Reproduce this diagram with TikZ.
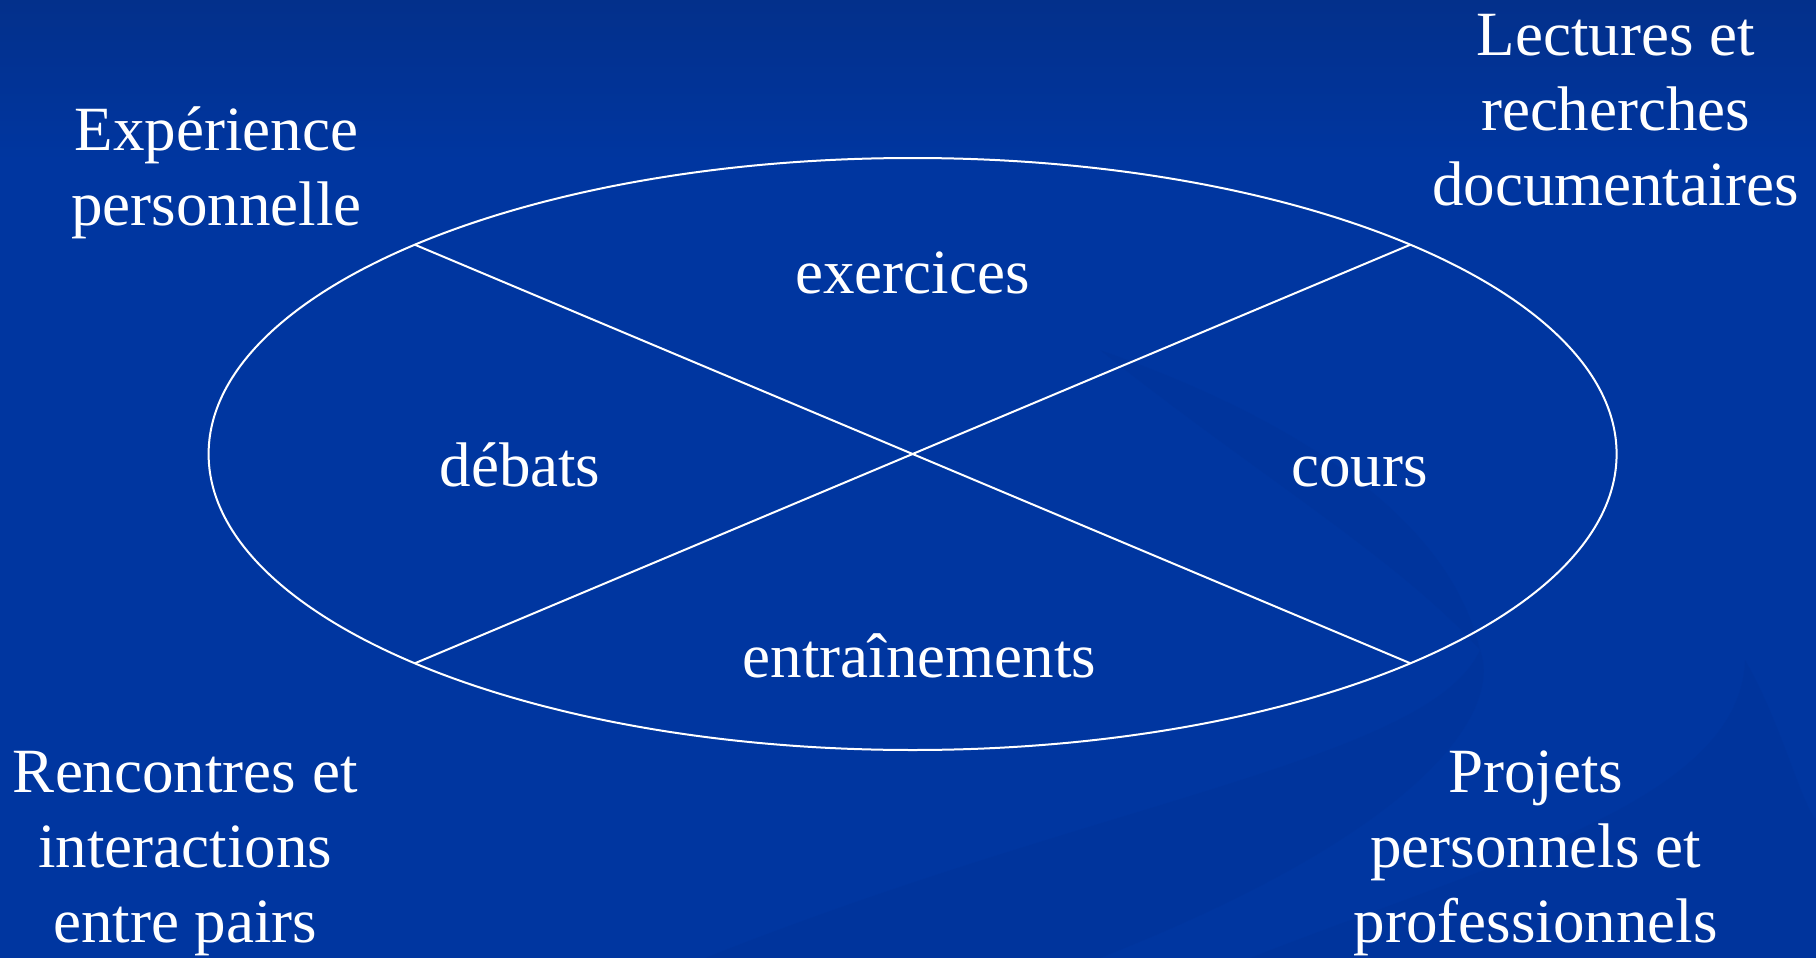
\documentclass[tikz,border=0pt]{standalone}
\usepackage{fontspec}
\setmainfont{Liberation Serif}
\usetikzlibrary{calc}
\begin{document}
\begin{tikzpicture}[x=1pt,y=-1pt,
  lbl/.style={text=white,font=\fontsize{63}{75.3}\selectfont,align=center,inner sep=0pt},
  divider/.style={draw=white,line width=2pt},
  swoosh/.style={fill=bgdark,opacity=0.2}]
\definecolor{bgtop}{HTML}{03308B}
\definecolor{bgmain}{HTML}{0036A0}
\definecolor{bgdark}{HTML}{02308F}
\useasboundingbox (0,0) rectangle (1816,958);
\shade[top color=bgtop,bottom color=bgmain] (0,0) rectangle (1816,160);
\fill[bgmain] (0,159.5) rectangle (1816,958);
% faint background swooshes
\fill[swoosh] (700,960) .. controls (1100,800) and (1430,760) .. (1480,650)
  .. controls (1500,700) and (1450,820) .. (1100,958) -- cycle;
\fill[swoosh] (1250,958) .. controls (1500,860) and (1740,800) .. (1745,660)
  .. controls (1780,720) and (1800,800) .. (1816,820) -- (1816,958) -- cycle;
\fill[swoosh] (1100,350) .. controls (1300,420) and (1450,520) .. (1480,650)
  .. controls (1400,560) and (1250,470) .. (1100,350) -- cycle;
% ellipse and dividers
\coordinate (c) at (912.6,454);
\draw[white,line width=2pt] (c) ellipse [x radius=704, y radius=296];
\coordinate (ul) at ($(c)+(-497.8,-209.3)$);
\coordinate (ur) at ($(c)+(497.8,-209.3)$);
\coordinate (ll) at ($(c)+(-497.8,209.3)$);
\coordinate (lr) at ($(c)+(497.8,209.3)$);
\draw[divider] (ul) -- (lr);
\draw[divider] (ur) -- (ll);
% inner labels
\node[lbl] (ex) at (912.6,273.3) {exercices};
\node[lbl] (deb) at (520,464.5) {débats};
\node[lbl] (cou) at (1359.7,471.5) {cours};
\node[lbl] (ent) at (919.6,655.5) {entraînements};
% outer labels
\node[lbl] (exp) at (216.6,173) {Expérience\\personnelle};
\node[lbl] (lec) at (1615.7,110) {Lectures et\\recherches\\documentaires};
\node[lbl] (ren) at (185.3,853.5) {Rencontres et\\interactions\\entre pairs};
\node[lbl] (pro) at (1535.8,853.5) {Projets\\personnels et\\professionnels};
\end{tikzpicture}
\end{document}
